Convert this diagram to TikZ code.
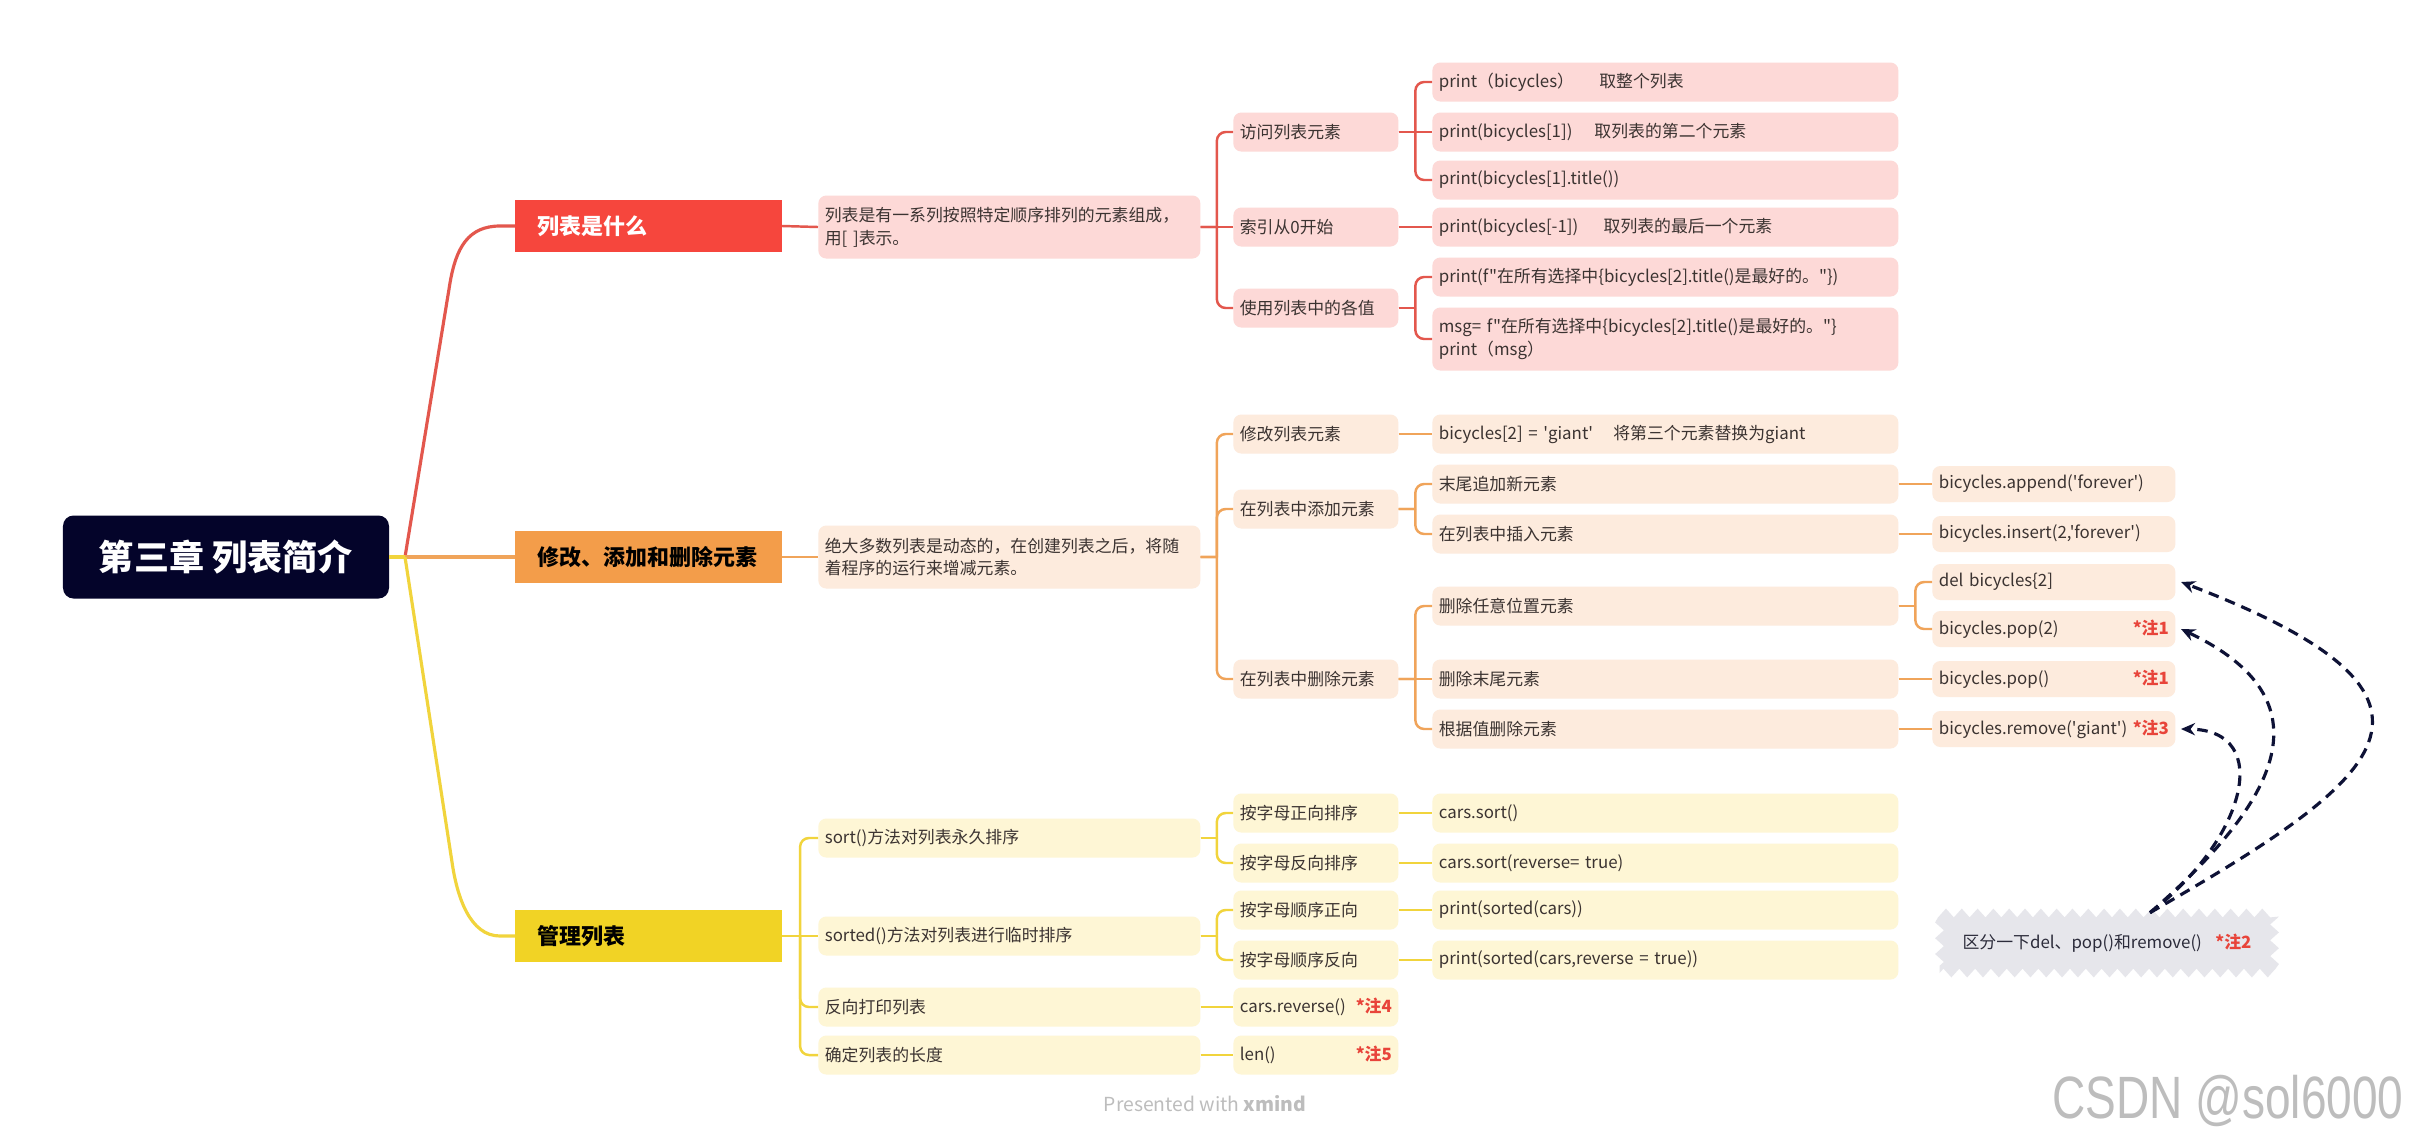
\documentclass[tikz,border=0pt]{standalone}
\usepackage{fontspec}
\usepackage{graphicx}
\setmainfont{Noto Sans CJK SC}[Ligatures=TeXOff]
\newfontfamily\wmfont{Liberation Sans}
\usetikzlibrary{calc,arrows.meta,decorations.pathmorphing}

\definecolor{rootbg}{HTML}{04042A}
\definecolor{redtop}{HTML}{F6463D}
\definecolor{redln}{HTML}{E3574D}
\definecolor{redlt}{HTML}{FDD9D7}
\definecolor{orgtop}{HTML}{F39D4A}
\definecolor{orgln}{HTML}{F0A45A}
\definecolor{orglt}{HTML}{FDEBDD}
\definecolor{yeltop}{HTML}{F1D325}
\definecolor{yelln}{HTML}{F1D43C}
\definecolor{yellt}{HTML}{FEF6D5}
\definecolor{txt}{HTML}{3B3331}
\definecolor{notetxt}{HTML}{2B2B3A}
\definecolor{notefill}{HTML}{E6E6EB}
\definecolor{notered}{HTML}{E8443A}
\definecolor{arrowc}{HTML}{0E1236}
\definecolor{wmgray}{HTML}{BDBDBD}

\newcommand\nt[1]{{\bfseries\color{notered}#1}}
\newcommand\pushnt[1]{\nobreak\hspace{\fill}\nt{#1}}

\begin{document}
\begin{tikzpicture}[x=0.2mm, y=-0.2mm,
  every node/.style={font=\fontsize{9.6}{13}\selectfont, text=txt},
  box/.style={anchor=west, rounded corners=4.5pt, inner xsep=0.13cm, inner ysep=0pt,
    align=left, minimum height=0.78cm},
  lvtwo/.style={box, text width=7.38cm},
  lvthree/.style={box, text width=3.04cm},
  lvfour/.style={box, text width=9.06cm},
  lvfive/.style={box, text width=4.6cm, minimum height=0.72cm},
  topic/.style={anchor=west, inner xsep=0.44cm, text width=4.45cm, minimum height=1.04cm,
    font=\fontsize{12.5}{15}\selectfont\bfseries},
  rootbox/.style={fill=rootbg, rounded corners=6pt, text=white, minimum width=6.52cm,
    minimum height=1.66cm, font=\fontsize{20}{24}\selectfont\bfseries},
  link/.style={line width=1.4pt},
  mainlink/.style={line width=1.8pt},
  hint/.style={arrowc, line width=1.8pt, dash pattern=on 6pt off 4pt, -{Stealth[length=8pt,width=7pt]}},
  notebg/.style={fill=notefill, minimum width=6.7cm, minimum height=1.2cm, text=notetxt,
    decorate, decoration={zigzag, segment length=9pt, amplitude=2.5pt}}
]
\fill[white] (0,0) rectangle (2410,1138);
\useasboundingbox (0,0) rectangle (2410,1138);

\node[rootbox] (root) at (226,557) {第三章 列表简介};
\coordinate (hub) at (405,557);

\node[topic, fill=redtop, text=white] (what) at (515,226) {列表是什么};
\node[topic, fill=orgtop, text=black] (edit) at (515,557) {修改、添加和删除元素};
\node[topic, fill=yeltop, text=black] (manage) at (515,936) {管理列表};

\draw[mainlink, redln] (hub) -- (450,283) .. controls (456,248) and (468,226) .. (500,226) -- (what.west);
\draw[mainlink, orgln] (hub) -- (edit.west);
\draw[mainlink, yelln] (hub) -- (452,862) .. controls (457,897) and (470,936) .. (500,936) -- (manage.west);
\draw[mainlink, yelln] (root.east) -- (hub);

% red branch
\begin{scope}[box/.append style={fill=redlt}, link/.append style={redln}]
\node[lvtwo, minimum height=1.26cm] (whatdesc) at (818,227) {列表是有一系列按照特定顺序排列的元素组成，\\用[ ]表示。};
\node[lvthree] (access) at (1233,132) {访问列表元素};
\node[lvthree] (index) at (1233,227) {索引从0开始};
\node[lvthree] (use) at (1233,308) {使用列表中的各值};
\node[lvfour] (pall) at (1432,82) {print（bicycles）\hspace{1.5em}取整个列表};
\node[lvfour] (pone) at (1432,132) {print(bicycles[1])\hspace{1.3em}取列表的第二个元素};
\node[lvfour] (ptitle) at (1432,180) {print(bicycles[1].title())};
\node[lvfour] (plast) at (1432,227) {print(bicycles[-1])\hspace{1.5em}取列表的最后一个元素};
\node[lvfour] (pf) at (1432,277) {print(f"在所有选择中\{bicycles[2].title()是最好的。"\})};
\node[lvfour, minimum height=1.26cm] (pmsg) at (1432,339) {msg= f"在所有选择中\{bicycles[2].title()是最好的。"\}\\print（msg）};
\foreach \p/\c in {what/whatdesc, whatdesc/index, access/pone, index/plast}
  \draw[link] (\p.east) -- (\c.west);
\foreach \p/\c in {whatdesc/access, whatdesc/use, access/pall, access/ptitle, use/pf, use/pmsg}{
  \draw[link] (\p.east) -- ($(\p.east)!.5!(\p.east -| \c.west)$);
  \draw[link, rounded corners=5pt] ($(\p.east)!.5!(\p.east -| \c.west)$) |- (\c.west);
}
\end{scope}

% orange branch
\begin{scope}[box/.append style={fill=orglt}, link/.append style={orgln}]
\node[lvtwo, minimum height=1.26cm] (editdesc) at (818,557) {绝大多数列表是动态的，在创建列表之后，将随\\着程序的运行来增减元素。};
\node[lvthree] (modify) at (1233,434) {修改列表元素};
\node[lvthree] (add) at (1233,509) {在列表中添加元素};
\node[lvthree] (del) at (1233,679) {在列表中删除元素};
\node[lvfour] (giant) at (1432,434) {bicycles[2] = 'giant'\hspace{1.2em}将第三个元素替换为giant};
\node[lvfour] (append) at (1432,484) {末尾追加新元素};
\node[lvfour] (insert) at (1432,534) {在列表中插入元素};
\node[lvfour] (delany) at (1432,606) {删除任意位置元素};
\node[lvfour] (delend) at (1432,679) {删除末尾元素};
\node[lvfour] (delval) at (1432,729) {根据值删除元素};
\node[lvfive] (appendc) at (1932,484) {bicycles.append('forever')};
\node[lvfive] (insertc) at (1932,534) {bicycles.insert(2,'forever')};
\node[lvfive] (delc) at (1932,582) {del bicycles\{2]};
\node[lvfive] (popi) at (1932,629) {bicycles.pop(2)\pushnt{*注1}};
\node[lvfive] (pop) at (1932,679) {bicycles.pop()\pushnt{*注1}};
\node[lvfive] (remove) at (1932,729) {bicycles.remove('giant')\pushnt{*注3}};
\foreach \p/\c in {edit/editdesc, modify/giant, del/delend, append/appendc, insert/insertc,
    delend/pop, delval/remove}
  \draw[link] (\p.east) -- (\c.west);
\foreach \p/\c in {editdesc/modify, editdesc/add, editdesc/del, add/append, add/insert,
    del/delany, del/delval, delany/delc, delany/popi}{
  \draw[link] (\p.east) -- ($(\p.east)!.5!(\p.east -| \c.west)$);
  \draw[link, rounded corners=5pt] ($(\p.east)!.5!(\p.east -| \c.west)$) |- (\c.west);
}
\end{scope}

% yellow branch
\begin{scope}[box/.append style={fill=yellt}, link/.append style={yelln}]
\node[lvtwo] (sort) at (818,838) {sort()方法对列表永久排序};
\node[lvtwo] (sorted) at (818,936) {sorted()方法对列表进行临时排序};
\node[lvtwo] (rev) at (818,1007) {反向打印列表};
\node[lvtwo] (len) at (818,1055) {确定列表的长度};
\node[lvthree] (azsort) at (1233,813) {按字母正向排序};
\node[lvthree] (zasort) at (1233,863) {按字母反向排序};
\node[lvthree] (azsorted) at (1233,910) {按字母顺序正向};
\node[lvthree] (zasorted) at (1233,960) {按字母顺序反向};
\node[lvthree] (revc) at (1233,1007) {cars.reverse()\pushnt{*注4}};
\node[lvthree] (lenc) at (1233,1055) {len()\pushnt{*注5}};
\node[lvfour] (sortc) at (1432,813) {cars.sort()};
\node[lvfour] (sortrc) at (1432,863) {cars.sort(reverse= true)};
\node[lvfour] (sortedc) at (1432,910) {print(sorted(cars))};
\node[lvfour] (sortedrc) at (1432,960) {print(sorted(cars,reverse = true))};
\foreach \p/\c in {manage/sorted, rev/revc, len/lenc, azsort/sortc, zasort/sortrc,
    azsorted/sortedc, zasorted/sortedrc}
  \draw[link] (\p.east) -- (\c.west);
\foreach \p/\c in {manage/sort, manage/rev, manage/len, sort/azsort, sort/zasort,
    sorted/azsorted, sorted/zasorted}{
  \draw[link] (\p.east) -- ($(\p.east)!.5!(\p.east -| \c.west)$);
  \draw[link, rounded corners=5pt] ($(\p.east)!.5!(\p.east -| \c.west)$) |- (\c.west);
}
\end{scope}

% note with dashed hints
\node[notebg] (diff) at (2107,943) {区分一下del、pop()和remove()\hspace{0.8em}\nt{*注2}};
\draw[hint] ([xshift=0.86cm]diff.north) .. controls (2380,780) and (2490,700) .. ([xshift=3pt]delc.east);
\draw[hint] ([xshift=0.86cm]diff.north) .. controls (2280,800) and (2330,700) .. ([xshift=3pt]popi.east);
\draw[hint] ([xshift=0.86cm]diff.north) .. controls (2245,840) and (2275,730) .. ([xshift=3pt]remove.east);

\node[text=wmgray, font=\fontsize{11}{13}\selectfont] (present) at (1205,1104) {Presented with \textbf{xmind}};
\node[text=wmgray, font=\wmfont\fontsize{34}{40}\selectfont] (csdn) at (2228,1101) {\scalebox{0.77}[1]{CSDN @sol6000}};
\end{tikzpicture}
\end{document}
